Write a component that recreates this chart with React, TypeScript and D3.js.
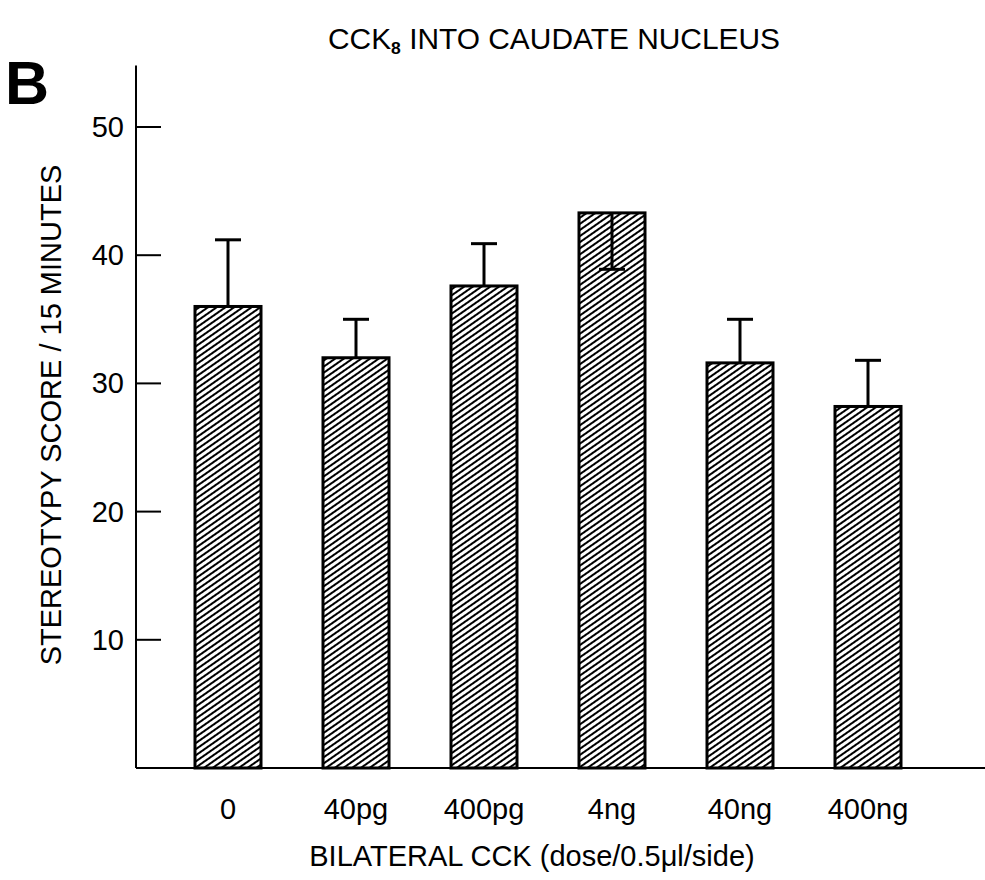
import React from 'react';
import * as d3 from 'd3';

const doses = ['0', '40pg', '400pg', '4ng', '40ng', '400ng'];
const means = [36.0, 32.0, 37.6, 43.3, 31.6, 28.2];
// SEM drawn upward, except 4ng which is drawn downward into the bar
const sems = [5.2, 3.0, 3.3, -4.4, 3.4, 3.6];
const yTicks = [10, 20, 30, 40, 50];

const W = 985;
const H = 880;
const font = '"Liberation Sans", Arial, Helvetica, sans-serif';

const App = () => {
    const x = d3.scalePoint<string>().domain(doses).range([228, 868]);
    const y = d3.scaleLinear().domain([0, 50]).range([768, 127]);
    const barW = 66;
    const axisX = 136;

    return (
        <svg width={W} height={H} style={{ position: 'absolute', left: 0, top: 0, background: '#fff' }}>
            <defs>
                <pattern id="hatch" patternUnits="userSpaceOnUse" width="5" height="8" patternTransform="rotate(55)">
                    <line x1="1" y1="-1" x2="1" y2="9" stroke="#000" strokeWidth="2" />
                </pattern>
            </defs>

            <text x={328} y={49} fontFamily={font} fontSize={29} textLength={452} lengthAdjust="spacingAndGlyphs">
                CCK<tspan fontSize={17} dy={5} fontWeight="bold">8</tspan>
                <tspan dy={-5}> INTO CAUDATE NUCLEUS</tspan>
            </text>

            <text x={5} y={104} fontFamily={font} fontSize={61} fontWeight="bold">B</text>

            {/* axes */}
            <line x1={axisX} x2={axisX} y1={y(54.8)} y2={y(0)} stroke="#000" strokeWidth={2} />
            <line x1={axisX} x2={985} y1={y(0)} y2={y(0)} stroke="#000" strokeWidth={2} />
            {yTicks.map(t => (
                <g key={t}>
                    <line x1={axisX} x2={axisX + 25} y1={y(t)} y2={y(t)} stroke="#000" strokeWidth={2} />
                    <text x={124} y={y(t) + 10} textAnchor="end" fontFamily={font} fontSize={29}>{t}</text>
                </g>
            ))}

            {/* bars */}
            {doses.map((d, i) => {
                const cx = x(d) as number;
                const top = y(means[i]);
                const end = y(means[i] + sems[i]);
                return (
                    <g key={d}>
                        <rect x={cx - barW / 2} y={top} width={barW} height={y(0) - top}
                            fill="url(#hatch)" stroke="#000" strokeWidth={3} />
                        <line x1={cx} x2={cx} y1={top} y2={end} stroke="#000" strokeWidth={3} />
                        <line x1={cx - 13} x2={cx + 13} y1={end} y2={end} stroke="#000" strokeWidth={3} />
                        <text x={cx} y={819} textAnchor="middle" fontFamily={font} fontSize={29}>{d}</text>
                    </g>
                );
            })}

            <text transform={`translate(61,${415}) rotate(-90)`} textAnchor="middle" fontFamily={font} fontSize={29}>
                STEREOTYPY SCORE / 15 MINUTES
            </text>
            <text x={532} y={866} textAnchor="middle" fontFamily={font} fontSize={29}>
                BILATERAL CCK (dose/0.5μl/side)
            </text>
        </svg>
    );
};

export default App;
